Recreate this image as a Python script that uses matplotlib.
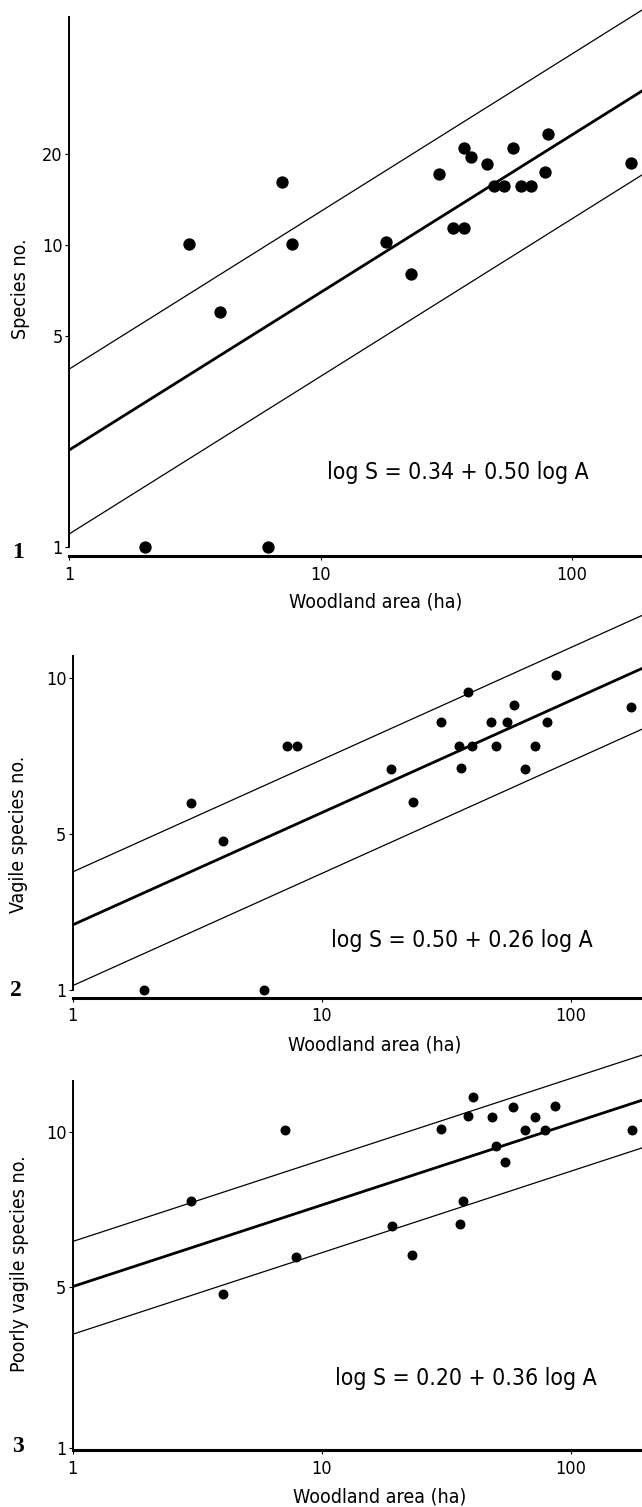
import numpy as np
import matplotlib
matplotlib.use('Agg')
import matplotlib.pyplot as plt
from matplotlib.ticker import NullLocator

# panel 1: all species
area_1 = [2, 3, 4, 6.2, 7, 7.7, 18.2, 22.9, 29.7, 33.5, 37.1, 37.3, 39.8, 45.8,
          48.9, 53.7, 58.1, 62.5, 68.9, 78.1, 80.3, 171]
species_1 = [1, 10.1, 6.0, 1, 16.2, 10.1, 10.2, 8.0, 17.2, 11.4, 11.4, 21.0, 19.5,
             18.5, 15.7, 15.7, 21.0, 15.7, 15.7, 17.4, 23.4, 18.7]
# lines as drawn: log S at A=1 (upper, fit, lower) and slope
fit_1 = [0.589, 0.321, 0.043]
slope_1 = 0.522
eq_1 = 'log S = 0.34 + 0.50 log A'

# panel 2: vagile species
area_2 = [1.93, 2.99, 4.03, 5.87, 7.23, 7.96, 19.0, 23.2, 30.1, 35.7, 36.3, 38.7,
          40.0, 47.9, 50.1, 55.3, 59.2, 65.5, 71.8, 80.3, 87.1, 174]
species_2 = [1, 5.75, 4.84, 1, 7.4, 7.4, 6.67, 5.76, 8.2, 7.4, 6.7, 9.37, 7.4,
             8.2, 7.4, 8.2, 8.84, 6.67, 7.38, 8.2, 10.1, 8.8]
fit_2 = [0.626, 0.524, 0.407]
slope_2 = 0.216
eq_2 = 'log S = 0.50 + 0.26 log A'

# panel 3: poorly vagile species
area_3 = [2.98, 4.01, 7.1, 7.9, 19.1, 23.1, 30.0, 35.8, 36.8, 38.6, 40.5, 48.2,
          50.1, 54.3, 58.7, 65.6, 71.9, 79.1, 86.3, 177]
species_3 = [7.36, 4.83, 10.1, 5.71, 6.57, 5.75, 10.15, 6.62, 7.33, 10.75, 11.73,
             10.7, 9.42, 8.75, 11.22, 10.1, 10.7, 10.1, 11.27, 10.1]
fit_3 = [0.787, 0.699, 0.606]
slope_3 = 0.159
eq_3 = 'log S = 0.20 + 0.36 log A'

W, H = 642, 1507
fig = plt.figure(figsize=(W / 100, H / 100), dpi=100)
font = dict(family='DejaVu Sans', stretch='condensed')


def panel(area, species, fit, slope, eq, num, ylabel, box, xmax, ylim, ybreak,
          ytop, yticks, msize, eq_xy, num_xy, ylab_xy, xlab_xy):
    x0, y0, y1 = box
    ax = fig.add_axes([x0 / W, 1 - y1 / H, (W - x0) / W, (y1 - y0) / H])
    ax.set_xscale('log')
    ax.set_yscale('log')
    ax.set_xlim(1, xmax)
    ax.set_ylim(*ylim)

    a_line = np.array([1, 250.0])
    for i, b0 in enumerate(fit):
        ax.plot(a_line, 10 ** (b0 + slope * np.log10(a_line)), color='black',
                lw=2.0 if i == 1 else 0.9, solid_capstyle='butt')

    # values of 1 sit on the axis break at the bottom
    s = np.array(species, dtype=float)
    s = np.where(s <= 1, ybreak, s)
    ax.scatter(area, s, s=msize, color='black', zorder=3, clip_on=False)

    for side in ('top', 'right'):
        ax.spines[side].set_visible(False)
    ax.spines['left'].set_linewidth(1.4)
    ax.spines['left'].set_bounds(ybreak, ytop)
    ax.spines['bottom'].set_linewidth(2.2)

    ax.set_xticks([1, 10, 100], ['1', '10', '100'])
    ax.set_yticks([ybreak] + yticks, ['1'] + [str(t) for t in yticks])
    ax.xaxis.set_minor_locator(NullLocator())
    ax.yaxis.set_minor_locator(NullLocator())
    ax.tick_params(axis='both', direction='out', length=3, width=0.8,
                   labelsize=13)
    ax.tick_params(axis='y', pad=1.5)
    ax.tick_params(axis='x', pad=4)
    for lab in ax.get_xticklabels() + ax.get_yticklabels():
        lab.set_family(font['family'])
        lab.set_stretch(font['stretch'])

    fig.text(eq_xy[0] / W, 1 - eq_xy[1] / H, eq, fontsize=16.5, **font,
             ha='center', va='center')
    fig.text(num_xy[0] / W, 1 - num_xy[1] / H, num, fontsize=17,
             family='Liberation Serif', weight='bold', ha='center', va='center')
    fig.text(ylab_xy[0] / W, 1 - ylab_xy[1] / H, ylabel, fontsize=14,
             **font, rotation=90, ha='center', va='center')
    fig.text(xlab_xy[0] / W, 1 - xlab_xy[1] / H, 'Woodland area (ha)',
             fontsize=14, **font, ha='center', va='center')
    return ax


panel(area_1, species_1, fit_1, slope_1, eq_1, '1', 'Species no.',
      box=(69, 0, 556), xmax=189.8, ylim=(0.934, 64.8), ybreak=1, ytop=56.9,
      yticks=[5, 10, 20], msize=62, eq_xy=(458, 473), num_xy=(18, 552),
      ylab_xy=(21, 289), xlab_xy=(376, 602))

panel(area_2, species_2, fit_2, slope_2, eq_2, '2', 'Vagile species no.',
      box=(72.7, 610, 997.7), xmax=193.3, ylim=(2.42, 13.5), ybreak=2.506,
      ytop=11.0, yticks=[5, 10], msize=38, eq_xy=(462, 940), num_xy=(16, 991),
      ylab_xy=(19, 834), xlab_xy=(375, 1045))

panel(area_3, species_3, fit_3, slope_3, eq_3, '3', 'Poorly vagile species no.',
      box=(72.7, 1045, 1450), xmax=193.3, ylim=(2.40, 14.8), ybreak=2.426,
      ytop=12.58, yticks=[5, 10], msize=38, eq_xy=(466, 1378),
      num_xy=(18, 1447), ylab_xy=(20, 1264), xlab_xy=(380, 1497))

fig.savefig('out.png', dpi=100)
